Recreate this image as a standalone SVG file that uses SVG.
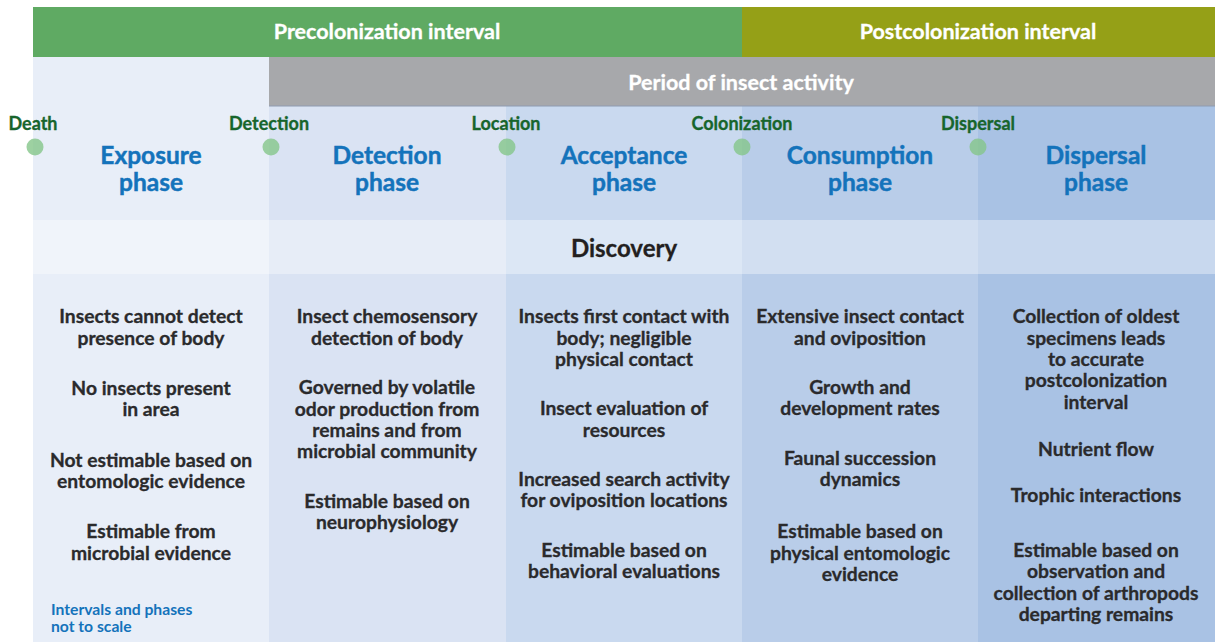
<svg xmlns="http://www.w3.org/2000/svg" width="1215" height="642" viewBox="0 0 1215 642">
<style>
.t{font-family:Lato,"Open Sans","Liberation Sans",sans-serif;font-weight:700;text-anchor:middle}
.bar{fill:#fff;font-size:21.5px;stroke:#fff;stroke-width:.3}
.ph{fill:#1473bb;font-size:24.5px;stroke:#1473bb;stroke-width:.45}
.ms{fill:#17652c;font-size:18px;stroke:#17652c;stroke-width:.3}
.body{fill:#2a2a2c;font-size:19.3px;stroke:#2a2a2c;stroke-width:.3}
.note{fill:#1473bb;font-size:15.7px;text-anchor:start}
.dot{fill:#84c68a;opacity:.8}
</style>
<rect width="1215" height="642" fill="#fff"/>
<g id="col-exposure">
<rect x="33" y="57" width="236" height="585" fill="#e8eef8"/>
</g>
<g id="col-detection">
<rect x="269" y="106" width="237" height="536" fill="#dae3f3"/>
</g>
<g id="col-acceptance">
<rect x="506" y="106" width="236" height="536" fill="#c9d9ef"/>
</g>
<g id="col-consumption">
<rect x="742" y="106" width="236" height="536" fill="#b9cde9"/>
</g>
<g id="col-dispersal">
<rect x="978" y="106" width="237" height="536" fill="#a9c2e4"/>
</g>
<g id="precolonization">
<rect x="33" y="7" width="709" height="50" fill="#5faa63"/>
<text class="t bar" x="387" y="39">Precolonization interval</text>
</g>
<g id="postcolonization">
<rect x="742" y="7" width="473" height="50" fill="#95a017"/>
<text class="t bar" x="978" y="39">Postcolonization interval</text>
</g>
<g id="insect-activity">
<rect x="269" y="57" width="946" height="49" fill="#a7a8ab"/>
<line x1="269" y1="106" x2="1215" y2="106" stroke="#8e9bb0" stroke-width="1"/>
<text class="t bar" x="741" y="90">Period of insect activity</text>
</g>
<g id="discovery">
<rect x="33" y="220" width="1182" height="54" fill="#fff" opacity=".36"/>
<text class="t" x="624" y="257" style="fill:#231f20;font-size:24px;stroke:#231f20;stroke-width:.3">Discovery</text>
</g>
<g id="milestones">
<text class="t ms" x="33" y="130">Death</text>
<circle class="dot" cx="35" cy="147" r="8.5"/>
<text class="t ms" x="269" y="130">Detection</text>
<circle class="dot" cx="271" cy="147" r="8.5"/>
<text class="t ms" x="506" y="130">Location</text>
<circle class="dot" cx="507" cy="147" r="8.5"/>
<text class="t ms" x="742" y="130">Colonization</text>
<circle class="dot" cx="742" cy="147" r="8.5"/>
<text class="t ms" x="978" y="130">Dispersal</text>
<circle class="dot" cx="978" cy="147" r="8.5"/>
</g>
<g id="phase-exposure">
<text class="t ph" x="151" y="164">Exposure</text>
<text class="t ph" x="151" y="191">phase</text>
</g>
<g id="phase-detection">
<text class="t ph" x="387" y="164">Detection</text>
<text class="t ph" x="387" y="191">phase</text>
</g>
<g id="phase-acceptance">
<text class="t ph" x="624" y="164">Acceptance</text>
<text class="t ph" x="624" y="191">phase</text>
</g>
<g id="phase-consumption">
<text class="t ph" x="860" y="164">Consumption</text>
<text class="t ph" x="860" y="191">phase</text>
</g>
<g id="phase-dispersal">
<text class="t ph" x="1096" y="164">Dispersal</text>
<text class="t ph" x="1096" y="191">phase</text>
</g>
<g id="text-exposure" class="t body">
<text x="151" y="323">Insects cannot detect</text>
<text x="151" y="345">presence of body</text>
<text x="151" y="395">No insects present</text>
<text x="151" y="416">in area</text>
<text x="151" y="467">Not estimable based on</text>
<text x="151" y="488">entomologic evidence</text>
<text x="151" y="538">Estimable from</text>
<text x="151" y="560">microbial evidence</text>
</g>
<g id="note">
<text class="t note" x="51" y="615">Intervals and phases</text>
<text class="t note" x="51" y="632">not to scale</text>
</g>
<g id="text-detection" class="t body">
<text x="387" y="323">Insect chemosensory</text>
<text x="387" y="345">detection of body</text>
<text x="387" y="394">Governed by volatile</text>
<text x="387" y="416">odor production from</text>
<text x="387" y="437">remains and from</text>
<text x="387" y="458">microbial community</text>
<text x="387" y="508">Estimable based on</text>
<text x="387" y="529">neurophysiology</text>
</g>
<g id="text-acceptance" class="t body">
<text x="624" y="323">Insects first contact with</text>
<text x="624" y="345">body; negligible</text>
<text x="624" y="366">physical contact</text>
<text x="624" y="415">Insect evaluation of</text>
<text x="624" y="437">resources</text>
<text x="624" y="486">Increased search activity</text>
<text x="624" y="507">for oviposition locations</text>
<text x="624" y="557">Estimable based on</text>
<text x="624" y="578">behavioral evaluations</text>
</g>
<g id="text-consumption" class="t body">
<text x="860" y="323">Extensive insect contact</text>
<text x="860" y="345">and oviposition</text>
<text x="860" y="394">Growth and</text>
<text x="860" y="415">development rates</text>
<text x="860" y="465">Faunal succession</text>
<text x="860" y="486">dynamics</text>
<text x="860" y="538">Estimable based on</text>
<text x="860" y="560">physical entomologic</text>
<text x="860" y="581">evidence</text>
</g>
<g id="text-dispersal" class="t body">
<text x="1096" y="323">Collection of oldest</text>
<text x="1096" y="345">specimens leads</text>
<text x="1096" y="366">to accurate</text>
<text x="1096" y="387">postcolonization</text>
<text x="1096" y="409">interval</text>
<text x="1096" y="456">Nutrient flow</text>
<text x="1096" y="502">Trophic interactions</text>
<text x="1096" y="557">Estimable based on</text>
<text x="1096" y="578">observation and</text>
<text x="1096" y="600">collection of arthropods</text>
<text x="1096" y="621">departing remains</text>
</g>
<g id="connectors"/>
</svg>
